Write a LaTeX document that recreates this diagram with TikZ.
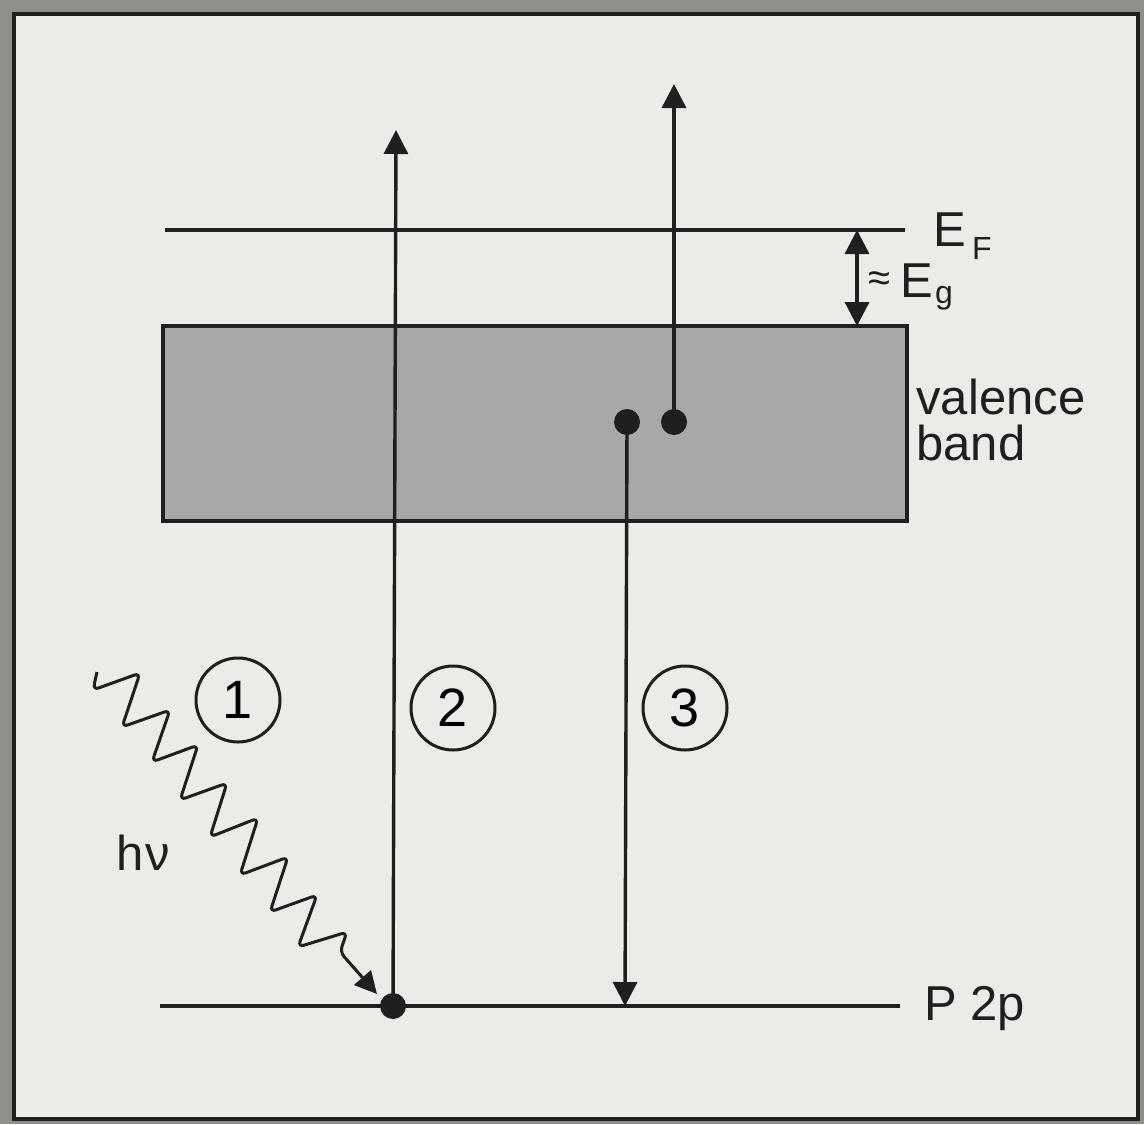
\documentclass[tikz,border=0pt]{standalone}
\usepackage{fontspec}
\setmainfont{Liberation Sans}
\usetikzlibrary{arrows.meta}
\definecolor{paper}{HTML}{E9ECE7}
\definecolor{stipple}{HTML}{8E908C}
\definecolor{bandfill}{HTML}{A6A9A5}
\definecolor{ink}{HTML}{1E201E}
\tikzset{
  lvl/.style={draw=ink,line width=1.7pt},
  tra/.style={draw=ink,line width=1.7pt,-{Triangle[width=12pt,length=12pt]}},
  dbl/.style={draw=ink,line width=1.7pt,{Triangle[width=12pt,length=12pt]}-{Triangle[width=12pt,length=12pt]}},
  dotn/.style={circle,fill=ink,inner sep=0pt,minimum size=13pt},
  num/.style={circle,draw=ink,line width=1.5pt,minimum size=42pt,inner sep=0pt,font=\fontsize{27}{30}\selectfont},
  lbl/.style={font=\fontsize{24.5}{23}\selectfont,text=ink,inner sep=0pt},
  wave/.style={draw=ink,line width=1.5pt,rounded corners=3pt,-{Triangle[width=11pt,length=11pt]}},
}
\begin{document}
\begin{tikzpicture}[x=0.5pt,y=-0.5pt]
\useasboundingbox (0,0) rectangle (1144,1124);
\fill[stipple] (0,0) rectangle (1144,1124);
\filldraw[fill=paper,draw=ink,line width=1.6pt] (14,14) rectangle (1138,1119);

% band
\filldraw[fill=bandfill,draw=ink,line width=1.7pt] (163,326) rectangle (907,521);
\coordinate (bandtop) at (857,326);

% levels
\coordinate (efL) at (165,230); \coordinate (efR) at (905,230);
\draw[lvl] (efL) -- (efR);
\coordinate (pL) at (160,1006); \coordinate (pR) at (900,1006);
\draw[lvl] (pL) -- (pR);
\coordinate (eftop) at (857,230);
\draw[dbl] (eftop) -- (bandtop);

% dots
\node[dotn] (d2) at (393,1006) {};
\node[dotn] (d3a) at (627,422) {};
\node[dotn] (d3b) at (674,422) {};
\coordinate (t2) at (396,130);
\coordinate (t3) at (674,84);
\coordinate (b3) at (625,1006);
\draw[tra] (d2.center) -- (t2);
\draw[tra] (d3b.center) -- (t3);
\draw[tra] (d3a.center) -- (b3);

% photon
\coordinate (w0) at (97,672);
\coordinate (w2) at (377,994);
\draw[wave] (w0) -- (93,690) -- (140,673) -- (122,727) -- (170,710) -- (152,762)
  -- (198,745) -- (180,800) -- (227,783) -- (210,837) -- (258,818) -- (240,875)
  -- (288,857) -- (270,912) -- (317,895) -- (298,947) -- (347,932) -- (340,952) -- (w2);

% numbered circles
\node[num] (c1) at (238,700) {1};
\node[num] (c2) at (453,708) {2};
\node[num] (c3) at (685,708) {3};

% labels
\node[lbl,anchor=base west] (ef) at (933,246) {E\kern3pt\raisebox{-6.5pt}{\fontsize{16}{16}\selectfont F}};
\node[lbl,anchor=base west] (eg) at (868,297) {\fontsize{20}{20}\selectfont\raisebox{3pt}{≈}\kern5pt\fontsize{24.5}{24}\selectfont E\kern1pt\raisebox{-3pt}{\fontsize{16}{16}\selectfont g}};
\node[lbl,anchor=base west] (val) at (916,414) {valence};
\node[lbl,anchor=base west] (band) at (916,460) {band};
\node[lbl,anchor=base west] (p2p) at (924,1020) {P 2p};
\node[lbl,anchor=base west] (hnu) at (116,870) {h\kern1pt ν};
\end{tikzpicture}
\end{document}
